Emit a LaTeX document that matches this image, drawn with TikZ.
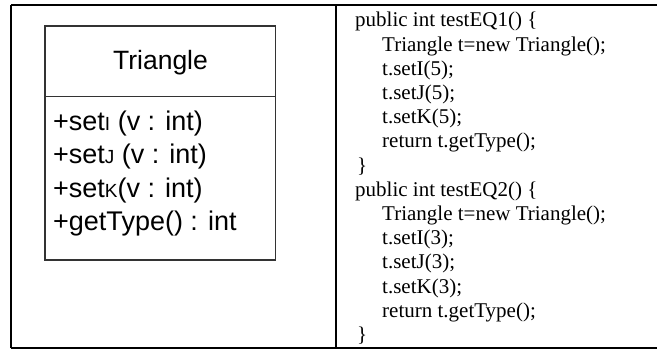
\documentclass[tikz,border=0pt]{standalone}
\usepackage{fontspec}
\setmainfont{Liberation Serif}
\newfontfamily\umlfamily{Liberation Sans}
\newcommand{\codefont}{\rmfamily\fontsize{21}{24}\selectfont}
\newcommand{\umlfont}{\umlfamily\fontsize{27}{33}\selectfont}
\newcommand{\smallcap}[1]{{\fontsize{19}{19}\selectfont #1}}
\tikzset{
	codeline/.style={anchor=base west, inner sep=0pt, font=\codefont},
	opline/.style={anchor=base west, inner sep=0pt, font=\umlfont},
	umlline/.style={draw=black!80, line width=1.3pt}
}
\begin{document}
\begin{tikzpicture}[x=1pt,y=-1pt]
	\useasboundingbox (0,0) rectangle (657,350);
	
	% Table frame
	\draw[line width=2.4pt] (11,5) -- (657,5); % top rule
	\draw[line width=2.4pt] (11,348) -- (657,348); % bottom rule
	\draw[line width=2.4pt] (11,5) -- (11,348); % left rule
	\draw[line width=2.4pt] (336,5) -- (336,348); % middle rule
	
	% Class box
	\draw[umlline] (45,26) rectangle (275.5,260);
	\draw[umlline] (45,96.5) -- (275.5,96.5); % name / operations
	\node[anchor=base, inner sep=0pt, font=\umlfamily\fontsize{26.5}{30}\selectfont] (name) at (160.5,70) {Triangle};
	
	% Operations
	\node[opline] (op1) at (53,130.5) {+set\smallcap{I} (v : int)};
	\node[opline] (op2) at (53,164) {+set\smallcap{J} (v : int)};
	\node[opline] (op3) at (53,197.5) {+set\smallcap{K}(v : int)};
	\node[opline] (op4) at (53,231) {+getType() : int};
	
	% First test
	\node[codeline] (t1a) at (355,27) {public int testEQ1() \{};
	\node[codeline] (t1b) at (382,51.2) {Triangle t=new Triangle();};
	\node[codeline] (t1c) at (382,75.4) {t.setI(5);};
	\node[codeline] (t1d) at (382,99.6) {t.setJ(5);};
	\node[codeline] (t1e) at (382,123.8) {t.setK(5);};
	\node[codeline] (t1f) at (382,148) {return t.getType();};
	\node[codeline] (t1g) at (357,172.2) {\}};
	
	% Second test
	\node[codeline] (t2a) at (355,196.4) {public int testEQ2() \{};
	\node[codeline] (t2b) at (382,220.6) {Triangle t=new Triangle();};
	\node[codeline] (t2c) at (382,244.8) {t.setI(3);};
	\node[codeline] (t2d) at (382,269) {t.setJ(3);};
	\node[codeline] (t2e) at (382,293.2) {t.setK(3);};
	\node[codeline] (t2f) at (382,317.4) {return t.getType();};
	\node[codeline] (t2g) at (357,341.6) {\}};
\end{tikzpicture}
\end{document}
